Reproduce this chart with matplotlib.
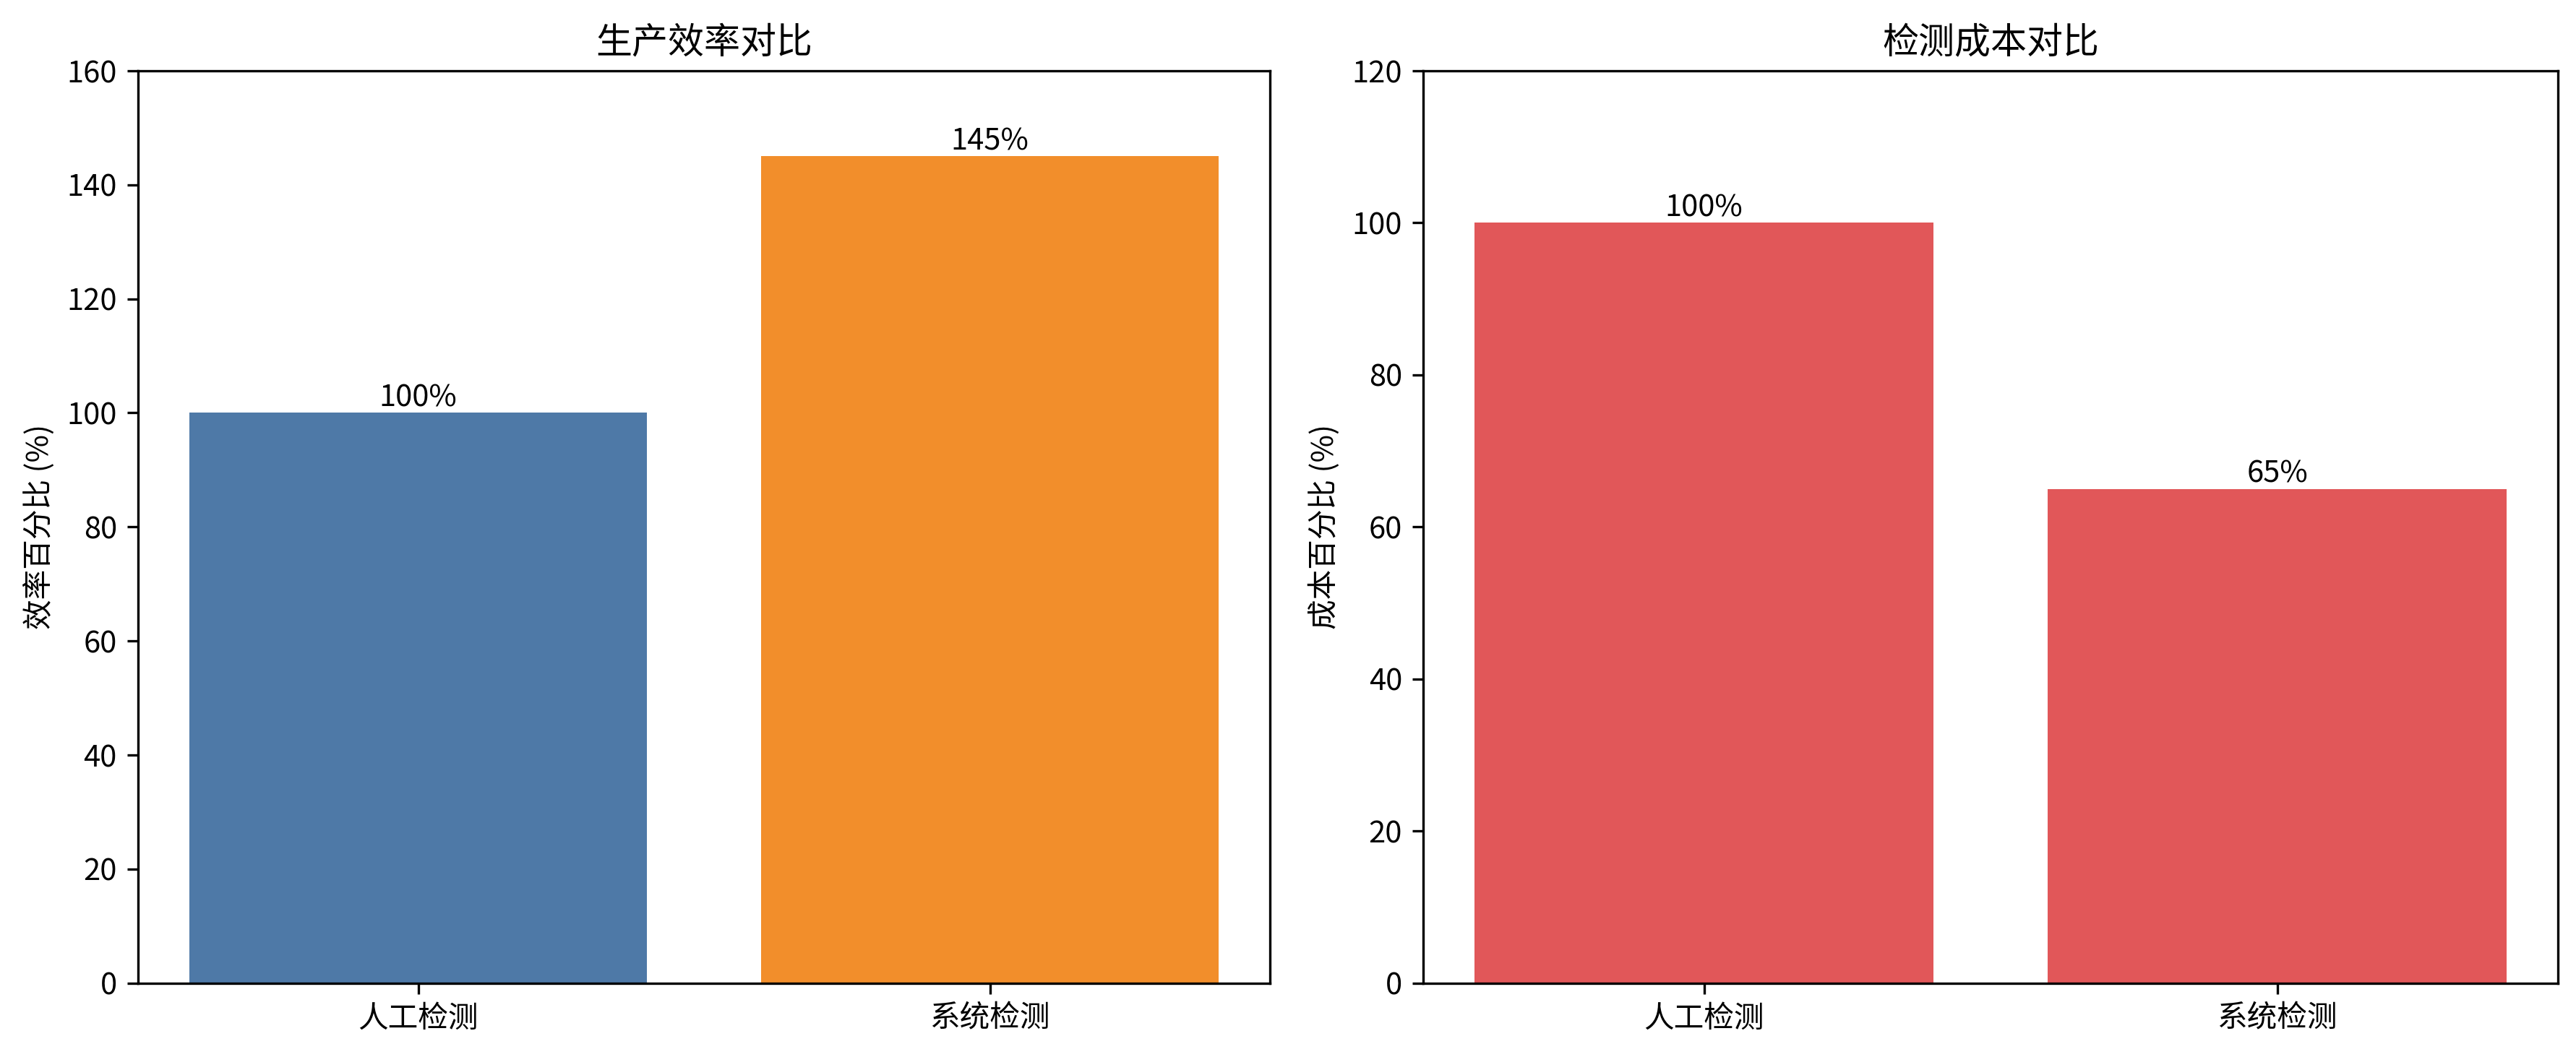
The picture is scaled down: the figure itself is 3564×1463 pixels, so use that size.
import matplotlib
matplotlib.use("Agg")
import matplotlib.pyplot as plt

plt.rcParams['font.family'] = ['Noto Sans CJK SC', 'DejaVu Sans']
plt.rcParams['axes.unicode_minus'] = False

methods = ['人工检测', '系统检测']
efficiency = [100, 145]
cost = [100, 65]
eff_colors = ['#4e79a7', '#f28e2b']
cost_color = '#e15759'

fig = plt.figure(figsize=(11.88, 4.877), dpi=300)
ax1 = fig.add_axes([0.0536, 0.070, 0.4394, 0.863])
ax2 = fig.add_axes([0.5525, 0.070, 0.4405, 0.863])

bars1 = ax1.bar(methods, efficiency, color=eff_colors)
ax1.set_ylim(0, 160)
ax1.set_title('生产效率对比', fontsize=12)
ax1.set_ylabel('效率百分比 (%)', fontsize=10)
for b, v in zip(bars1, efficiency):
    ax1.text(b.get_x() + b.get_width() / 2, v, f'{v}%', ha='center', va='bottom', fontsize=10)

bars2 = ax2.bar(methods, cost, color=cost_color)
ax2.set_ylim(0, 120)
ax2.set_title('检测成本对比', fontsize=12)
ax2.set_ylabel('成本百分比 (%)', fontsize=10)
for b, v in zip(bars2, cost):
    ax2.text(b.get_x() + b.get_width() / 2, v, f'{v}%', ha='center', va='bottom', fontsize=10)

for ax in (ax1, ax2):
    ax.tick_params(labelsize=10)

fig.savefig('out.png', dpi=300)
